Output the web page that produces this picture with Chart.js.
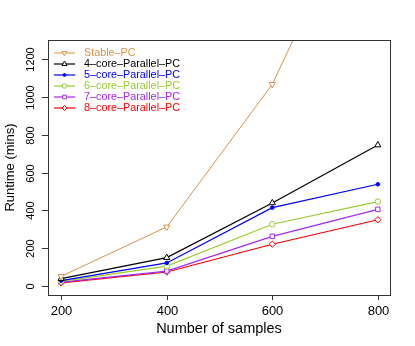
<!DOCTYPE html>
<html lang="en">
<head>
<meta charset="UTF-8">
<title>Runtime vs samples</title>
<script src="https://cdn.jsdelivr.net/npm/chart.js"></script>
<style>
  body { margin: 0; background: #fff; }
  #wrap { width: 415px; height: 346px; }
</style>
</head>
<body>
<div id="wrap"><canvas id="runtimeChart" width="415" height="346"></canvas></div>
<script>
// data
var samples = [200, 400, 600, 800];
var stablePC = [50, 312, 1068, 2260];
var core4 = [38, 149, 439, 746];
var core5 = [27, 121, 414, 538];
var core6 = [23, 104, 326, 446];
var core7 = [19, 78, 262, 405];
var core8 = [15, 73, 220, 350];
var xTicks = [200, 400, 600, 800];
var yTicks = [0, 200, 400, 600, 800, 1000, 1200];

var FONT = "'Liberation Sans', Arial, sans-serif";

function pts(vals) {
  return samples.map(function (s, i) { return { x: s, y: vals[i] }; });
}

function series(label, vals, color, style, extra) {
  var d = {
    label: label,
    data: pts(vals),
    borderColor: color,
    backgroundColor: color,
    borderWidth: 1.2,
    tension: 0,
    pointStyle: style,
    pointRadius: 3,
    pointBorderColor: color,
    pointBackgroundColor: '#fff',
    pointBorderWidth: 1,
    pointRotation: 0
  };
  for (var k in extra) d[k] = extra[k];
  return d;
}

var datasets = [
  series('Stable-PC', stablePC, '#D9914F', 'triangle', { pointRotation: 180, pointRadius: 3.6, borderWidth: 1 }),
  series('4-core-Parallel-PC', core4, '#000000', 'triangle', { pointRadius: 3.6 }),
  series('5-core-Parallel-PC', core5, '#0000FF', 'circle', { pointRadius: 1.8, pointBackgroundColor: '#0000FF' }),
  series('6-core-Parallel-PC', core6, '#99CC33', 'circle', { pointRadius: 2.8 }),
  series('7-core-Parallel-PC', core7, '#A628F0', 'rect', { pointRadius: 3.2 }),
  series('8-core-Parallel-PC', core8, '#FF0000', 'rectRot', { pointRadius: 3.2 })
];

// R style frame, ticks, labels and legend
var rFrame = {
  id: 'rFrame',
  afterDatasetsDraw: function (chart) {
    var ctx = chart.ctx, a = chart.chartArea;
    var xs = chart.scales.x, ys = chart.scales.y;
    ctx.save();
    ctx.strokeStyle = '#333';
    ctx.lineWidth = 1;
    ctx.strokeRect(a.left + 0.5, a.top + 0.5, a.right - a.left, a.bottom - a.top);

    ctx.fillStyle = '#000';
    // x axis
    ctx.font = '13px ' + FONT;
    ctx.textAlign = 'center';
    ctx.textBaseline = 'middle';
    xTicks.forEach(function (v) {
      var x = Math.round(xs.getPixelForValue(v)) + 0.5;
      ctx.beginPath();
      ctx.moveTo(x, a.bottom);
      ctx.lineTo(x, a.bottom + 5);
      ctx.stroke();
      ctx.fillText(String(v), x, a.bottom + 16);
    });
    ctx.font = '14.5px ' + FONT;
    ctx.fillText('Number of samples', (a.left + a.right) / 2, a.bottom + 34);

    // y axis, labels rotated like R's default
    ctx.font = '11px ' + FONT;
    yTicks.forEach(function (v) {
      var y = Math.round(ys.getPixelForValue(v)) + 0.5;
      ctx.beginPath();
      ctx.moveTo(a.left - 6, y);
      ctx.lineTo(a.left, y);
      ctx.stroke();
      ctx.save();
      ctx.translate(a.left - 17, y);
      ctx.rotate(-Math.PI / 2);
      ctx.fillText(String(v), 0, 0);
      ctx.restore();
    });
    ctx.save();
    ctx.font = '13px ' + FONT;
    ctx.translate(10, (a.top + a.bottom) / 2);
    ctx.rotate(-Math.PI / 2);
    ctx.fillText('Runtime (mins)', 0, 0);
    ctx.restore();

    // legend in the top-left corner
    ctx.font = '10.8px ' + FONT;
    ctx.textAlign = 'left';
    chart.data.datasets.forEach(function (ds, i) {
      var y = a.top + 13 + i * 11;
      var x0 = a.left + 6, x1 = a.left + 27;
      ctx.strokeStyle = ds.borderColor;
      ctx.lineWidth = ds.borderWidth;
      ctx.beginPath();
      ctx.moveTo(x0, y);
      ctx.lineTo(x1, y);
      ctx.stroke();
      ctx.fillStyle = ds.pointBackgroundColor;
      ctx.lineWidth = ds.pointBorderWidth;
      Chart.helpers.drawPoint(ctx, {
        pointStyle: ds.pointStyle,
        radius: ds.pointRadius * 0.8,
        rotation: ds.pointRotation,
        borderWidth: ds.pointBorderWidth
      }, (x0 + x1) / 2, y);
      ctx.fillStyle = ds.borderColor;
      ctx.fillText(ds.label.replace(/-/g, '\u2013'), a.left + 36, y + 0.5);
    });
    ctx.restore();
  }
};

var chart = new Chart(document.getElementById('runtimeChart').getContext('2d'), {
  type: 'line',
  data: { datasets: datasets },
  options: {
    responsive: false,
    animation: false,
    layout: { padding: { left: 48, top: 40, right: 25, bottom: 51 } },
    plugins: { legend: { display: false }, tooltip: { enabled: false } },
    scales: {
      x: { type: 'linear', display: false, min: 175, max: 823 },
      y: { type: 'linear', display: false, min: -49, max: 1303 }
    }
  },
  plugins: [rFrame]
});
</script>
</body>
</html>
